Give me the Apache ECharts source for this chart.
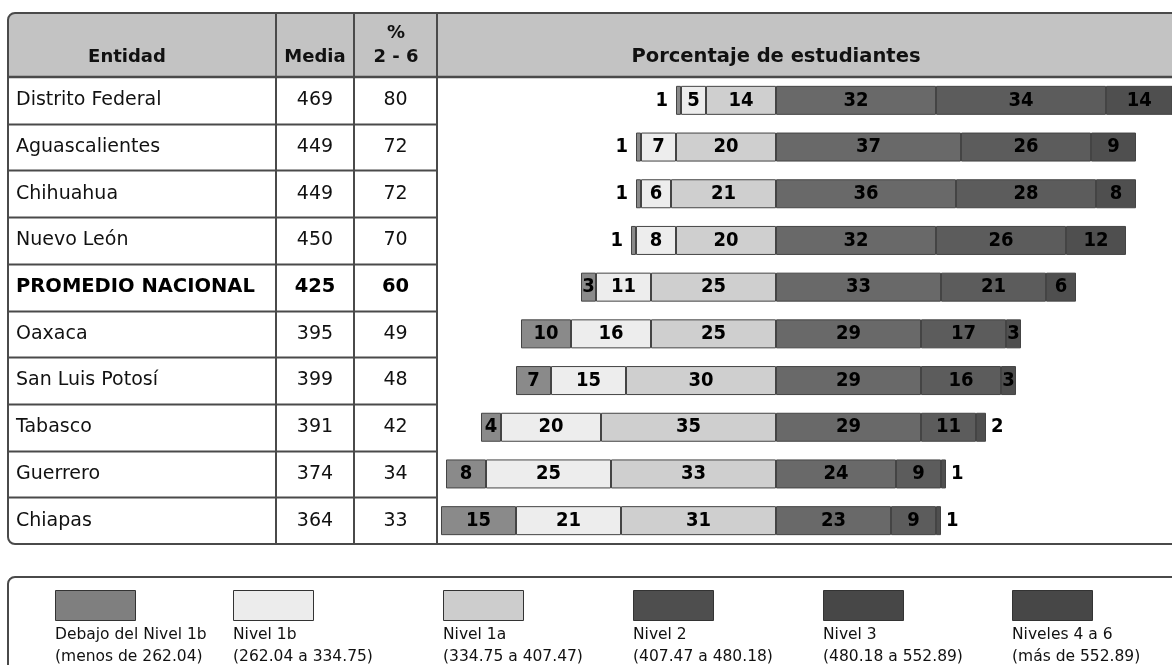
<!DOCTYPE html>
<html>
<head>
<meta charset="utf-8">
<script src="https://cdn.jsdelivr.net/npm/echarts@6/dist/echarts.min.js"></script>
<style>
html,body{margin:0;padding:0;background:#fff;}
#chart{width:1172px;height:665px;}
</style>
</head>
<body>
<div id="chart"></div>
<script>
// ---- data ----
const entities = ['Distrito Federal','Aguascalientes','Chihuahua','Nuevo León','PROMEDIO NACIONAL','Oaxaca','San Luis Potosí','Tabasco','Guerrero','Chiapas'];
const media = [469,449,449,450,425,395,399,391,374,364];
const pct26 = [80,72,72,70,60,49,48,42,34,33];
const debajo1b = [1,1,1,1,3,10,7,4,8,15];
const nivel1b = [5,7,6,8,11,16,15,20,25,21];
const nivel1a = [14,20,21,20,25,25,30,35,33,31];
const nivel2 = [32,37,36,32,33,29,29,29,24,23];
const nivel3 = [34,26,28,26,21,17,16,11,9,9];
const nivel46 = [14,9,8,12,6,3,3,2,1,1];
const levelNames = ['Debajo del Nivel 1b','Nivel 1b','Nivel 1a','Nivel 2','Nivel 3','Niveles 4 a 6'];
const levelRanges = ['(menos de 262.04)','(262.04 a 334.75)','(334.75 a 407.47)','(407.47 a 480.18)','(480.18 a 552.89)','(más de 552.89)'];
const boldRow = 'PROMEDIO NACIONAL';

// ---- layout / style ----
const FONT = "'DejaVu Sans', Verdana, sans-serif";
const LABFONT = "'DejaVu Sans Condensed', 'Liberation Sans Narrow', sans-serif";
const GRID_LEFT = 426, GRID_TOP = 77, GRID_H = 467;
const ROW_H = GRID_H / entities.length;
const barColors = ['#8a8a8a','#ededed','#cfcfcf','#696969','#5c5c5c','#4f4f4f'];
const legendColors = ['#7f7f7f','#ececec','#cdcdcd','#4e4e4e','#474747','#474747'];
const legendX = [55, 233, 443, 633, 823, 1012];
const LINE = '#4a4a4a';

const chart = echarts.init(document.getElementById('chart'), null, {renderer:'canvas'});

function mkSeries(name, vals, color, neg, side) {
  return {
    name: name, type: 'bar', stack: 'total', barWidth: 29,
    itemStyle: {color: color, borderColor: '#444', borderWidth: 1},
    emphasis: {disabled: true},
    label: {show: true, position: 'inside', color: '#000', fontWeight: 'bold', fontSize: 20,
      fontFamily: LABFONT, formatter: p => Math.abs(p.value)},
    data: vals.map(v => {
      const item = {value: neg ? -v : v};
      if (side && v <= 2) item.label = {position: side, distance: side === 'left' ? 8 : 5};
      return item;
    })
  };
}

const series = [
  mkSeries(levelNames[2], nivel1a, barColors[2], true),
  mkSeries(levelNames[1], nivel1b, barColors[1], true),
  mkSeries(levelNames[0], debajo1b, barColors[0], true, 'left'),
  mkSeries(levelNames[3], nivel2, barColors[3], false),
  mkSeries(levelNames[4], nivel3, barColors[4], false),
  mkSeries(levelNames[5], nivel46, barColors[5], false, 'right')
];

const g = [];
// header background
g.push({type:'rect', z:-5, shape:{x:8,y:13,width:1200,height:64,r:[7,0,0,0]}, style:{fill:'#c3c3c3'}});
// outer table border
g.push({type:'rect', z:5, shape:{x:8,y:13,width:1200,height:GRID_TOP+GRID_H-13,r:7}, style:{fill:null, stroke:LINE, lineWidth:2}});
// header bottom
g.push({type:'line', z:5, shape:{x1:8,y1:GRID_TOP,x2:1172,y2:GRID_TOP}, style:{stroke:LINE, lineWidth:2.5}});
// vertical lines
[276, 354, 437].forEach(x => g.push({type:'line', z:5, shape:{x1:x,y1:13,x2:x,y2:GRID_TOP+GRID_H}, style:{stroke:LINE, lineWidth:2}}));
// row lines
for (let i = 1; i < entities.length; i++) {
  const y = Math.round(GRID_TOP + i * ROW_H) + 0.5;
  g.push({type:'line', z:5, shape:{x1:8,y1:y,x2:437,y2:y}, style:{stroke:LINE, lineWidth:2}});
}
// header texts
const hdr = (t, x, y, fs) => g.push({type:'text', z:6, x:x, y:y, style:{text:t, fill:'#111', font:"bold " + fs + "px " + FONT, textAlign:'center', textVerticalAlign:'middle'}});
hdr('Entidad', 127, 57, 18);
hdr('Media', 315, 57, 18);
hdr('%', 396, 33, 18);
hdr('2 - 6', 396, 57, 18);
hdr('Porcentaje de estudiantes', 776, 57, 19.5);
// legend box
g.push({type:'rect', z:5, shape:{x:8,y:577,width:1200,height:140,r:7}, style:{fill:null, stroke:LINE, lineWidth:2}});
levelNames.forEach((n, i) => {
  g.push({type:'text', z:6, x:legendX[i], y:624, style:{text:n + '\n' + levelRanges[i], fill:'#111', font:"15.5px " + FONT, lineHeight:22, textAlign:'left', textVerticalAlign:'top'}});
});

const option = {
  animation: false,
  backgroundColor: '#fff',
  grid: {left: GRID_LEFT, right: 0, top: GRID_TOP, height: GRID_H, containLabel: false},
  xAxis: {type: 'value', min: -70, max: 79.2, show: false},
  yAxis: {
    type: 'category', inverse: true, data: entities,
    axisLine: {show: false}, axisTick: {show: false}, splitLine: {show: false},
    axisLabel: {
      interval: 0, margin: GRID_LEFT - 16, align: 'left',
      formatter: (v, i) => {
        const s = v === boldRow ? 'B' : '';
        return '{a' + s + '|' + v + '}{b' + s + '|' + media[i] + '}{c' + s + '|' + pct26[i] + '}';
      },
      rich: {
        a: {width: 260, align: 'left', fontSize: 19, fontFamily: FONT, color: '#111'},
        b: {width: 78, align: 'center', fontSize: 19, fontFamily: FONT, color: '#111'},
        c: {width: 83, align: 'center', fontSize: 19, fontFamily: FONT, color: '#111'},
        aB: {width: 260, align: 'left', fontSize: 19.5, fontWeight: 'bold', fontFamily: FONT, color: '#000'},
        bB: {width: 78, align: 'center', fontSize: 19.5, fontWeight: 'bold', fontFamily: FONT, color: '#000'},
        cB: {width: 83, align: 'center', fontSize: 19.5, fontWeight: 'bold', fontFamily: FONT, color: '#000'}
      }
    }
  },
  legend: levelNames.map((n, i) => ({
    data: [{name: n, itemStyle: {color: legendColors[i], borderColor: '#333', borderWidth: 1}}],
    left: legendX[i], top: 590, itemWidth: 80, itemHeight: 30, icon: 'rect',
    selectedMode: false, formatter: () => '', padding: 0
  })),
  graphic: {elements: g},
  series: series
};
chart.setOption(option);
</script>
</body>
</html>
